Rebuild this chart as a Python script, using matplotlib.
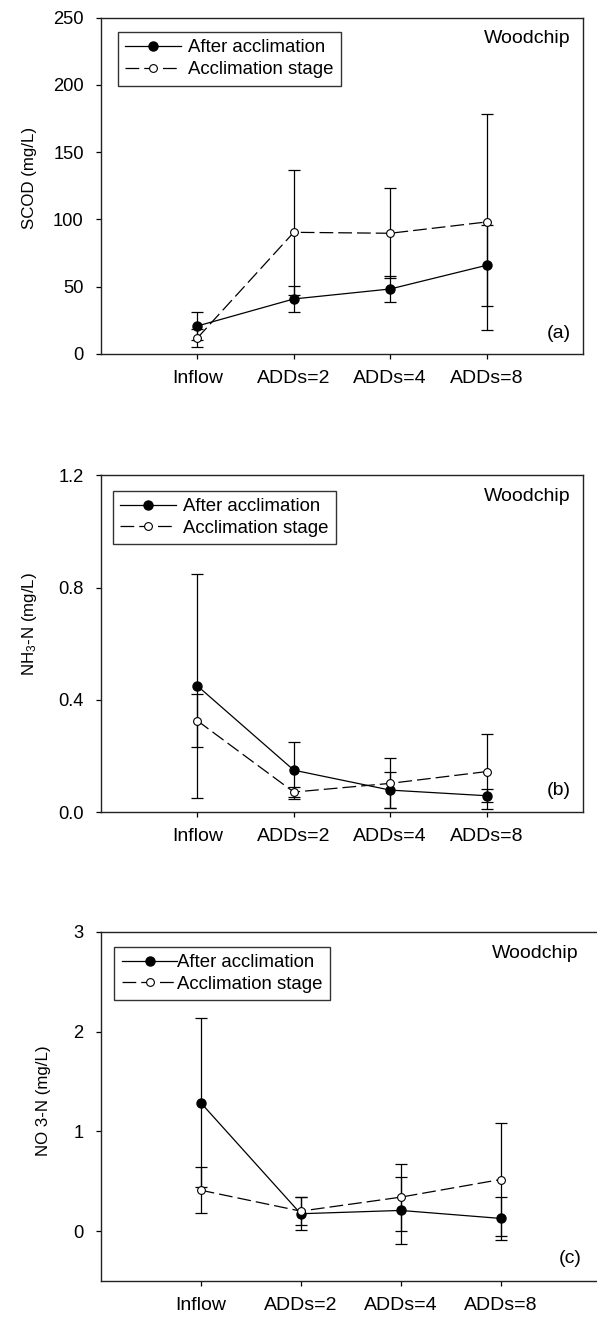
import matplotlib
matplotlib.use("Agg")
import matplotlib.pyplot as plt
import numpy as np

plt.rcParams['font.family'] = ['Liberation Sans', 'DejaVu Sans']
plt.rcParams['mathtext.fontset'] = 'custom'
plt.rcParams['mathtext.rm'] = 'Liberation Sans'
plt.rcParams['mathtext.it'] = 'Liberation Sans'
plt.rcParams['mathtext.default'] = 'regular'

categories = ["Inflow", "ADDs=2", "ADDs=4", "ADDs=8"]
series_names = ["After acclimation", "Acclimation stage"]

# Panel (a) SCOD
scod_after = [20.8, 40.9, 48.3, 65.9]
scod_after_err = [10.6, 9.7, 9.8, 30.2]
scod_accl = [11.9, 90.4, 89.7, 98.1]
scod_accl_err = [7.0, 46.3, 33.6, 79.9]

# Panel (b) NH3-N
nh3_after = [0.450, 0.150, 0.079, 0.059]
nh3_after_err = [0.399, 0.102, 0.063, 0.023]
nh3_accl = [0.326, 0.072, 0.103, 0.145]
nh3_accl_err = [0.095, 0.018, 0.089, 0.135]

# Panel (c) NO3-N
no3_after = [1.287, 0.174, 0.207, 0.127]
no3_after_err = [0.847, 0.167, 0.333, 0.213]
no3_accl = [0.41, 0.20, 0.34, 0.517]
no3_accl_err = [0.228, 0.14, 0.334, 0.563]

W, H = 597, 1318
fig = plt.figure(figsize=(W / 100, H / 100), dpi=100)

def px_axes(left, right, top, bottom):
    return fig.add_axes([left / W, 1 - bottom / H, (right - left) / W, (bottom - top) / H])

FS_Y = 13.2
FS_X = 14
FS_LEG = 13.4
FS_TXT = 14
FS_LAB = 12.2

panels = [
    dict(box=(101, 583, 17.5, 354), after=scod_after, after_err=scod_after_err,
         accl=scod_accl, accl_err=scod_accl_err, ylim=(0, 250), yticks=[0, 50, 100, 150, 200, 250],
         yfmt=lambda v: f"{v:g}", ylabel="SCOD (mg/L)", tag="(a)", labpos=(-0.132, 0.523),
         leg=(0.035, 0.957), hpad=0.35, wood=(0.975, 0.939), tagpos=(0.975, 0.062)),
    dict(box=(101, 583, 475.3, 812.3), after=nh3_after, after_err=nh3_after_err,
         accl=nh3_accl, accl_err=nh3_accl_err, ylim=(0, 1.2), yticks=[0.0, 0.4, 0.8, 1.2],
         yfmt=lambda v: f"{v:.1f}", ylabel="NH$_3$-N (mg/L)", tag="(b)", labpos=(-0.129, 0.56),
         leg=(0.025, 0.954), hpad=0.35, wood=(0.975, 0.936), tagpos=(0.975, 0.066)),
    dict(box=(100.7, 600.7, 931.7, 1281), after=no3_after, after_err=no3_after_err,
         accl=no3_accl, accl_err=no3_accl_err, ylim=(-0.5, 3), yticks=[0, 1, 2, 3],
         yfmt=lambda v: f"{v:g}", ylabel="NO 3-N (mg/L)", tag="(c)", labpos=(-0.099, 0.516),
         leg=(0.027, 0.957), hpad=0.0, wood=(0.955, 0.939), tagpos=(0.961, 0.063)),
]

x = np.arange(1, len(categories) + 1)

for p in panels:
    ax = px_axes(*p["box"])
    ax.set_xlim(0, 5)
    ax.set_ylim(*p["ylim"])
    ax.errorbar(x, p["after"], yerr=p["after_err"], fmt='none', ecolor='black',
                elinewidth=0.9, capsize=4, capthick=0.9, zorder=2)
    ax.errorbar(x, p["accl"], yerr=p["accl_err"], fmt='none', ecolor='black',
                elinewidth=0.9, capsize=4, capthick=0.9, zorder=2)
    l1, = ax.plot(x, p["after"], '-', color='black', lw=0.9, marker='o', ms=6.5,
                  mfc='black', mec='black', label=series_names[0], zorder=3)
    l2, = ax.plot(x, p["accl"], color='black', lw=0.9, marker='o', ms=5.6,
                  mfc='white', mec='black', mew=0.8, label=series_names[1], zorder=4)
    l2.set_dashes((11, 4))
    ax.set_xticks(x)
    ax.set_xticklabels(categories, fontsize=FS_X)
    ax.set_yticks(p["yticks"])
    ax.set_yticklabels([p["yfmt"](v) for v in p["yticks"]], fontsize=FS_Y)
    ax.tick_params(direction='out', length=3.5, width=0.9, top=False, right=False, colors='black')
    ax.tick_params(axis='x', pad=8)
    ax.tick_params(axis='y', pad=9)
    for s in ax.spines.values():
        s.set_linewidth(1.0)
        s.set_color('#222222')
    ax.set_ylabel(p["ylabel"], fontsize=FS_LAB)
    ax.yaxis.set_label_coords(*p["labpos"])
    leg = ax.legend(handles=[l1, l2], loc='upper left', bbox_to_anchor=p["leg"],
                    borderaxespad=0, fancybox=False, frameon=True, fontsize=FS_LEG,
                    handlelength=3.0, handletextpad=p["hpad"], borderpad=0.4,
                    labelspacing=0.25)
    leg.get_frame().set_edgecolor('black')
    leg.get_frame().set_linewidth(1.0)
    ax.text(p["wood"][0], p["wood"][1], "Woodchip", transform=ax.transAxes,
            ha='right', va='center', fontsize=FS_TXT)
    ax.text(p["tagpos"][0], p["tagpos"][1], p["tag"], transform=ax.transAxes,
            ha='right', va='center', fontsize=FS_TXT)

fig.savefig("out.png", dpi=100)
